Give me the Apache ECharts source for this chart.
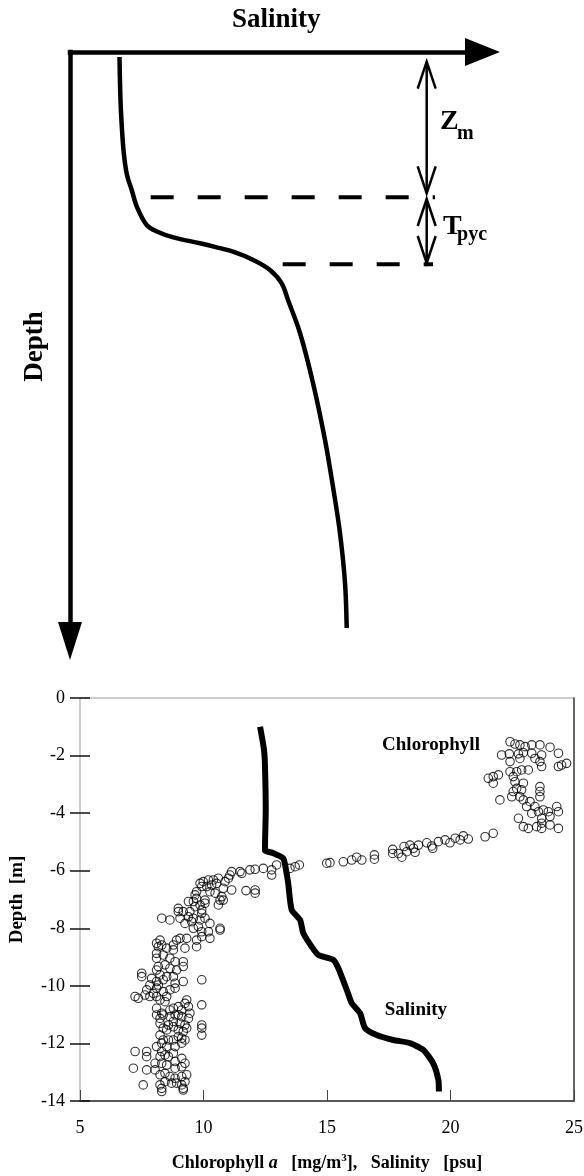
<!DOCTYPE html>
<html><head><meta charset="utf-8">
<script src="https://cdn.jsdelivr.net/npm/echarts@6/dist/echarts.min.js"></script>
<style>html,body{margin:0;padding:0;background:#fff}#c{width:584px;height:1176px}</style>
</head><body><div id="c"></div>
<script>
// ---------- Schematic (top panel), arbitrary units: salinity 0..100, depth 0..-100 ----------
const schemSalinity = [12.0, 12.24, 12.61, 13.09, 13.82, 14.96, 16.24, 18.59, 21.33, 25.04, 31.52, 35.56, 39.52, 44.44, 48.48, 51.32, 52.85, 55.76, 58.91, 61.82, 63.76, 65.45, 66.67, 67.08];
const schemDepth    = [-0.85, -8.15, -13.24, -17.49, -20.88, -23.43, -26.32, -29.37, -30.56, -31.46, -32.48, -33.16, -33.90, -35.31, -37.01, -39.27, -42.11, -47.71, -56.20, -65.87, -73.85, -81.66, -90.15, -97.79];
const mixedLayerBase = -24.67;   // Zm
const pycnoclineBase = -36.04;   // Zm + Tpyc
const mixedLayerDashX = [19.56, 88.48];
const pycnoclineDashX = [51.56, 88.0];
const markerX = 86.47;
const zmArrow = [-1.65, -23.99];
const tpycArrow = [-24.96, -35.82];

// ---------- Measured profile (bottom panel) ----------
const xTicks = [5, 10, 15, 20, 25];
const yTicks = [0, -2, -4, -6, -8, -10, -12, -14];
const salinityPsu = [12.29, 12.45, 12.49, 12.52, 12.49, 12.49, 12.83, 13.23, 13.34, 13.43, 13.57, 13.91, 14.04, 14.38, 14.65, 15.26, 15.46, 15.80, 16.00, 16.34, 16.54, 17.01, 17.68, 18.36, 18.90, 19.30, 19.51, 19.53];
const salinityDepth = [-1.0, -1.8, -2.39, -3.89, -5.16, -5.30, -5.39, -5.57, -5.97, -6.44, -7.36, -7.71, -8.17, -8.64, -8.93, -9.10, -9.39, -10.14, -10.60, -10.95, -11.47, -11.71, -11.88, -11.99, -12.23, -12.69, -13.27, -13.67];

// chlorophyll a [mg/m3], depth [m]
const chlSurface = [[22.41,-1.52],[22.61,-1.60],[22.81,-1.63],[23.02,-1.69],[23.29,-1.63],[23.62,-1.63],[24.03,-1.71],[24.37,-1.92],
[22.07,-1.98],[22.38,-1.94],[22.75,-1.94],[22.95,-1.90],[23.29,-1.92],[23.42,-2.10],[23.69,-1.98],[22.81,-2.10],
[23.62,-2.21],[23.69,-2.38],[24.37,-2.38],[24.70,-2.27],[24.50,-2.33],[22.41,-2.21],
[21.53,-2.79],[21.73,-2.73],[21.94,-2.67],[21.73,-2.96],[22.41,-2.56],[22.68,-2.56],[22.88,-2.50],[23.15,-2.50],
[22.54,-2.73],[22.61,-2.91],[22.95,-2.96],[22.68,-3.14],[22.88,-3.19],[23.62,-3.08],[23.62,-3.25],[23.62,-3.43],
[22.54,-3.25],[22.48,-3.43],[22.81,-3.43],[22.95,-3.54],[23.22,-3.60],[23.08,-3.77],[23.42,-3.77],[23.29,-4.01],
[23.56,-3.95],[23.76,-3.89],[23.96,-3.95],[24.30,-3.77],[24.37,-3.95],[24.03,-4.12],[23.69,-4.18],[23.69,-4.35],
[22.75,-4.18],[22.95,-4.47],[23.15,-4.53],[23.49,-4.47],[23.69,-4.53],[24.03,-4.41],[24.37,-4.53],[22.00,-3.54]];
const chlTransition = [[13.50,-5.92],[13.71,-5.86],[13.88,-5.80],[14.99,-5.74],[15.12,-5.72],[15.66,-5.69],[16.00,-5.63],[16.20,-5.53],[16.41,-5.63],[16.92,-5.45],[16.92,-5.60],[17.66,-5.26],[17.66,-5.40],[17.89,-5.40],[18.03,-5.53],[18.12,-5.16],[18.23,-5.34],[18.36,-5.11],[18.50,-5.22],[18.57,-5.36],[18.70,-5.11],[19.04,-5.03],[19.24,-5.14],[19.28,-5.22],[19.51,-4.99],[19.78,-4.93],[19.98,-5.03],[20.19,-4.87],[20.39,-4.93],[20.52,-4.79],[20.72,-4.90],[21.73,-4.70],[21.40,-4.82],
[12.96,-5.80],[12.76,-5.97],[12.76,-6.15],[12.42,-5.92],[12.09,-5.95],[11.88,-5.97],[11.55,-6.09],[11.48,-6.03],[11.14,-6.03],[11.07,-6.15],[12.09,-6.67],[12.09,-6.78],[11.72,-6.69],[11.14,-6.67],[10.87,-6.38],[10.80,-6.61],[11.01,-6.26],[10.60,-6.26],[10.40,-6.32],[10.20,-6.32],[9.99,-6.38],[9.86,-6.44],[9.93,-6.55],[10.13,-6.55],[10.33,-6.50],[10.53,-6.44],[10.26,-6.73],[10.47,-6.78],[10.74,-6.90],[10.67,-7.02],[10.60,-7.19],[10.80,-7.02],[9.72,-6.73],[9.66,-6.84],[9.72,-6.96],[10.06,-7.02],[10.06,-7.13],[9.86,-7.19],[9.66,-7.25],[9.39,-7.07],[9.59,-7.07],[9.93,-7.36],[9.93,-7.48],[9.45,-7.42],[9.18,-7.42],[8.98,-7.31],[8.98,-7.42],[9.05,-7.65],[9.39,-7.60],[9.59,-7.65],[9.25,-7.83],[9.52,-7.77],[9.86,-7.71],[10.06,-7.65],[10.26,-7.83],[9.79,-7.94],[9.59,-8.00],[9.93,-8.12],[10.20,-8.12],[10.67,-8.00],[10.67,-8.06],[10.26,-8.35],[9.93,-8.29],[9.72,-8.41],[9.32,-8.35],[9.05,-8.35],[8.91,-8.41],[8.78,-8.58],[8.64,-7.71],[8.31,-7.65],[8.24,-8.41],[8.31,-8.58]];
const chlDeep = [[9.25,-8.69],[8.78,-8.75],[8.51,-8.69],[8.17,-8.64],[8.10,-8.52],[9.72,-8.64],[8.10,-8.87],[8.10,-9.04],[8.37,-8.93],[8.64,-9.04],[8.85,-9.16],[9.18,-9.16],[9.18,-9.33],[8.91,-9.45],[8.64,-9.39],[8.44,-9.27],[8.17,-9.33],[8.10,-9.45],[8.24,-9.62],[8.10,-9.85],[8.37,-9.79],[8.51,-9.68],[8.78,-9.68],[8.85,-9.91],[9.18,-9.85],[8.85,-10.08],[8.64,-10.14],[8.37,-10.20],[8.10,-10.08],[7.97,-10.26],[7.70,-10.14],[7.50,-9.56],[7.50,-9.68],[7.90,-9.74],[7.83,-9.97],[8.17,-9.97],[7.23,-10.37],[7.36,-10.43],[7.63,-10.32],[7.83,-10.37],[8.10,-10.37],[8.24,-10.49],[8.51,-10.37],[8.44,-10.55],[8.10,-10.78],[8.31,-10.95],[8.10,-11.01],[8.24,-11.13],[8.37,-11.01],[8.64,-11.07],[8.64,-10.84],[8.78,-10.78],[8.98,-10.72],[9.12,-10.84],[9.25,-10.61],[9.32,-10.49],[9.39,-10.72],[9.45,-10.95],[9.39,-11.13],[9.12,-11.07],[8.98,-11.01],[8.85,-11.01],[8.78,-11.24],[9.05,-11.30],[9.25,-11.36],[9.32,-11.47],[9.18,-11.59],[8.98,-11.53],[8.78,-11.42],[8.58,-11.36],[8.51,-11.53],[8.37,-11.47],[8.24,-11.30],[8.24,-11.71],[8.37,-11.88],[8.58,-11.88],[8.78,-11.88],[8.98,-11.76],[9.12,-11.82],[9.25,-11.88],[9.12,-11.99],[8.85,-12.11],[8.51,-12.11],[8.31,-11.99],[8.10,-12.11],[8.31,-12.28],[8.24,-12.46],[8.44,-12.40],[8.58,-12.46],[8.78,-12.34],[8.85,-12.63],[9.12,-12.52],[9.25,-12.69],[9.12,-12.81],[8.85,-12.86],[8.51,-12.75],[8.31,-12.69],[8.04,-12.69],[8.04,-12.92],[8.24,-13.09],[8.44,-13.04],[8.64,-13.15],[8.85,-13.21],[9.12,-13.15],[9.32,-13.09],[9.25,-13.33],[9.12,-13.44],[8.91,-13.38],[8.71,-13.38],[8.44,-13.33],[8.24,-13.44],[8.31,-13.56],[8.31,-13.67],[9.18,-13.56],[9.18,-13.62],[7.70,-12.28],[7.70,-12.46],[7.23,-12.28],[7.16,-12.86],[7.56,-13.44],[7.70,-12.92],[9.93,-9.79],[9.93,-10.66],[9.93,-11.36],[9.93,-11.47],[9.93,-11.71]];

const FONT = "'Liberation Serif', 'Times New Roman', serif";

const schemCurve = schemSalinity.map((s, i) => [s, schemDepth[i]]);
const salinityLine = salinityPsu.map((s, i) => [s, salinityDepth[i]]);
const chlAll = chlSurface.concat(chlTransition, chlDeep);

const annotationText = ['Z', 'm', 'T', 'pyc'];

const chart = echarts.init(document.getElementById('c'));
chart.setOption({
  animation: false,
  backgroundColor: '#fff',
  grid: [
    { left: 70, top: 52, right: 101.5, bottom: 535, outerBoundsMode: 'none' },
    { left: 80, top: 698, right: 10, bottom: 75, show: true, borderColor: '#9a9a9a', borderWidth: 1, backgroundColor: 'transparent', outerBoundsMode: 'none' }
  ],
  xAxis: [
    { gridIndex: 0, type: 'value', min: 0, max: 100, position: 'top',
      axisLine: { onZero: false, symbol: ['none', 'triangle'], symbolSize: [28, 35], lineStyle: { color: '#000', width: 4.5, cap: 'square' } },
      axisTick: { show: false }, axisLabel: { show: false }, splitLine: { show: false },
      name: 'Salinity', nameLocation: 'middle', nameGap: 18,
      nameTextStyle: { fontFamily: FONT, fontWeight: 'bold', fontSize: 27, color: '#000' } },
    { gridIndex: 1, type: 'value', min: 5, max: 25, interval: 5, position: 'bottom',
      axisLine: { onZero: false, lineStyle: { color: '#333', width: 1.5 } },
      axisTick: { inside: true, length: 11, lineStyle: { color: '#444', width: 1 } },
      axisLabel: { margin: 18, fontFamily: FONT, fontSize: 18, color: '#000',
        customValues: xTicks },
      splitLine: { show: false },
      name: '{b|Chlorophyll }{i|a}{b|   [mg/m}{s|3}{b|],   Salinity   [psu]}', nameLocation: 'middle', nameGap: 52,
      nameTextStyle: { rich: {
        b: { fontFamily: FONT, fontWeight: 'bold', fontSize: 18, color: '#000' },
        i: { fontFamily: FONT, fontWeight: 'bold', fontStyle: 'italic', fontSize: 18, color: '#000' },
        s: { fontFamily: FONT, fontWeight: 'bold', fontSize: 11, color: '#000', padding: [0, 0, 10, 0] }
      } } }
  ],
  yAxis: [
    { gridIndex: 0, type: 'value', min: -100, max: 0,
      axisLine: { onZero: false, symbol: ['triangle', 'none'], symbolSize: [24, 38], lineStyle: { color: '#000', width: 4.5, cap: 'square' } },
      axisTick: { show: false }, axisLabel: { show: false }, splitLine: { show: false },
      name: 'Depth', nameLocation: 'middle', nameGap: 21, nameRotate: 90,
      nameTextStyle: { fontFamily: FONT, fontWeight: 'bold', fontSize: 27, color: '#000' } },
    { gridIndex: 1, type: 'value', min: -14, max: 0, interval: 2, position: 'left', offset: -10,
      axisLine: { show: false, onZero: false },
      axisTick: { show: true, length: 20, lineStyle: { color: '#111', width: 1.5 } },
      axisLabel: { margin: 25, fontFamily: FONT, fontSize: 18, color: '#000',
        customValues: yTicks },
      splitLine: { show: false },
      name: 'Depth  [m]', nameLocation: 'middle', nameGap: 63, nameRotate: 90,
      nameTextStyle: { fontFamily: FONT, fontWeight: 'bold', fontSize: 19, color: '#000' } },
    { gridIndex: 1, type: 'value', min: -14, max: 0, interval: 2, position: 'right',
      axisLine: { show: true, onZero: false, lineStyle: { color: '#444', width: 1.5 } },
      axisTick: { show: false }, axisLabel: { show: false }, splitLine: { show: false } }
  ],
  series: [
    { type: 'line', name: 'schematic salinity', xAxisIndex: 0, yAxisIndex: 0, data: schemCurve,
      showSymbol: false, symbol: 'none', smooth: 0.35, clip: false,
      lineStyle: { color: '#000', width: 4.5 } },
    { type: 'line', name: 'mixed layer base', xAxisIndex: 0, yAxisIndex: 0,
      data: mixedLayerDashX.map(x => [x, mixedLayerBase]), symbol: 'none',
      lineStyle: { color: '#000', width: 4, type: [23, 24] } },
    { type: 'line', name: 'pycnocline base', xAxisIndex: 0, yAxisIndex: 0,
      data: pycnoclineDashX.map(x => [x, pycnoclineBase]), symbol: 'none',
      lineStyle: { color: '#000', width: 4, type: [23, 24] } },
    { type: 'custom', name: 'thickness arrows', xAxisIndex: 0, yAxisIndex: 0,
      data: [[markerX, zmArrow[0], zmArrow[1]], [markerX, tpycArrow[0], tpycArrow[1]]],
      encode: { x: 0, y: [1, 2] },
      renderItem: function (params, api) {
        const p1 = api.coord([api.value(0), api.value(1)]);
        const p2 = api.coord([api.value(0), api.value(2)]);
        const hw = 9, hl = 27;
        const st = { stroke: '#000', lineWidth: 2.5, fill: 'none' };
        return { type: 'group', children: [
          { type: 'line', shape: { x1: p1[0], y1: p1[1], x2: p2[0], y2: p2[1] }, style: st },
          { type: 'polyline', shape: { points: [[p1[0] - hw, p1[1] + hl], [p1[0], p1[1]], [p1[0] + hw, p1[1] + hl]] }, style: st },
          { type: 'polyline', shape: { points: [[p2[0] - hw, p2[1] - hl], [p2[0], p2[1]], [p2[0] + hw, p2[1] - hl]] }, style: st }
        ] };
      } },
    { type: 'custom', name: 'symbols', xAxisIndex: 0, yAxisIndex: 0,
      data: [[89.70, -11.88], [93.82, -13.82], [90.42, -29.71], [93.82, -30.97]],
      encode: { x: 0, y: 1 },
      renderItem: function (params, api) {
        const p = api.coord([api.value(0), api.value(1)]);
        const big = params.dataIndex % 2 === 0;
        return { type: 'text', x: p[0], y: p[1], style: {
          text: annotationText[params.dataIndex], fill: '#000',
          font: 'bold ' + (big ? 28 : 20) + 'px ' + FONT,
          textAlign: 'left', textVerticalAlign: 'middle' } };
      } },
    { type: 'scatter', name: 'Chlorophyll', xAxisIndex: 1, yAxisIndex: 1, data: chlAll,
      symbol: 'circle', symbolSize: 8.5, z: 2,
      itemStyle: { color: 'rgba(255,255,255,0)', borderColor: '#000', borderWidth: 1.1 },
      markPoint: { symbol: 'circle', symbolSize: 1, silent: true, itemStyle: { color: 'rgba(0,0,0,0)' },
        label: { show: true, position: 'inside', fontFamily: FONT, fontWeight: 'bold', fontSize: 19, color: '#000' },
        data: [{ coord: [19.21, -1.63], label: { formatter: 'Chlorophyll' } }] } },
    { type: 'line', name: 'Salinity', xAxisIndex: 1, yAxisIndex: 1, data: salinityLine,
      symbol: 'none', smooth: 0.2, z: 3,
      lineStyle: { color: '#000', width: 6, join: 'round' },
      markPoint: { symbol: 'circle', symbolSize: 1, silent: true, itemStyle: { color: 'rgba(0,0,0,0)' },
        label: { show: true, position: 'inside', fontFamily: FONT, fontWeight: 'bold', fontSize: 19, color: '#000' },
        data: [{ coord: [18.60, -10.84], label: { formatter: 'Salinity' } }] } }
  ]
});
</script></body></html>
